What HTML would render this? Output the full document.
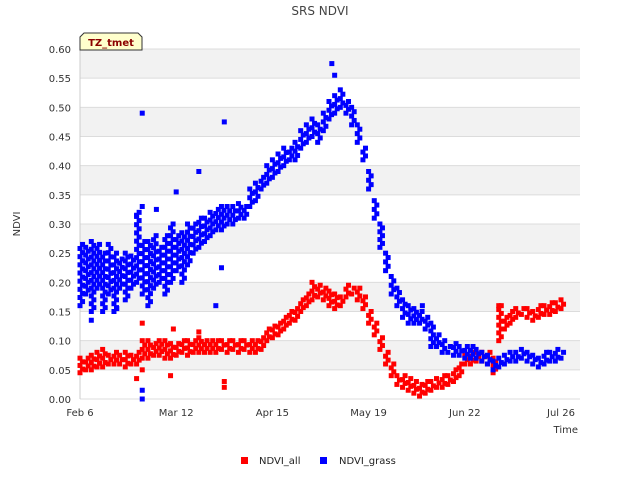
<!DOCTYPE html>
<html><head><meta charset="utf-8">
<style>
body{margin:0;background:#fff}
svg{display:block}
text{font-family:"DejaVu Sans","Liberation Sans",sans-serif}
</style></head>
<body>
<svg id="chart" width="640" height="480">
<g id="bands"></g><g id="grid"></g>
<text x="320" y="15" text-anchor="middle" font-size="12" fill="#444">SRS NDVI</text>
<text x="0" y="0" transform="translate(20,224) rotate(-90)" text-anchor="middle" font-size="10" fill="#333">NDVI</text>
<text x="578" y="433" text-anchor="end" font-size="10" fill="#333">Time</text>
<g id="yticks"></g><g id="xticks"></g>
<g id="red"></g><g id="blue"></g>
<g>
<path d="M80,50 L80,37 L84,33 L138,33 L142,37 L142,50 Z" fill="#ffffcc" stroke="#333" stroke-width="1"/>
<text x="111" y="46" text-anchor="middle" font-size="10" font-weight="bold" fill="#8b0000">TZ_tmet</text>
</g>
<g>
<rect x="241" y="457" width="7" height="7" fill="#ff0000"/>
<text x="259" y="464" font-size="10" fill="#222">NDVI_all</text></g>
<g>
<rect x="320" y="457" width="7" height="7" fill="#0000ff"/>
<text x="339" y="464" font-size="10" fill="#222">NDVI_grass</text></g>
</svg>
<script>
const yTicks=[0,0.05,0.1,0.15,0.2,0.25,0.3,0.35,0.4,0.45,0.5,0.55,0.6];
const xTickDays=[0,34,68,102,136,170];
const xTickLabels=["Feb 6","Mar 12","Apr 15","May 19","Jun 22","Jul 26"];
const binDays=2;
const allLo=[.045,.05,.05,.055,.055,.06,.06,.06,.055,.06,.06,.07,.07,.075,.075,.07,.07,.075,.08,.075,.08,.08,.08,.08,.08,.085,.08,.085,.08,.085,.08,.08,.085,.10,.105,.11,.12,.13,.135,.15,.16,.17,.175,.17,.16,.155,.16,.175,.18,.17,.155,.13,.11,.085,.06,.04,.025,.02,.015,.01,.005,.01,.015,.02,.02,.025,.03,.04,.06,.06,.065,.065,.06,.045,.10,.12,.13,.14,.145,.14,.135,.14,.145,.145,.15,.155];
const allHi=[.07,.07,.075,.08,.085,.075,.08,.075,.08,.075,.08,.10,.10,.095,.10,.10,.095,.095,.10,.10,.10,.105,.10,.10,.10,.10,.10,.10,.10,.10,.10,.10,.105,.12,.125,.13,.14,.15,.155,.17,.18,.20,.195,.19,.185,.18,.175,.195,.19,.19,.175,.15,.13,.105,.08,.06,.04,.04,.035,.03,.025,.03,.03,.035,.04,.04,.05,.06,.075,.08,.08,.08,.08,.07,.16,.14,.15,.155,.155,.155,.15,.16,.16,.165,.165,.17];
const grassLo=[.16,.18,.15,.19,.15,.18,.15,.19,.17,.19,.20,.18,.16,.19,.20,.18,.20,.22,.20,.23,.25,.26,.27,.28,.29,.29,.30,.30,.31,.31,.33,.34,.36,.37,.38,.39,.40,.41,.41,.43,.44,.45,.44,.46,.48,.49,.50,.49,.47,.44,.41,.36,.31,.26,.22,.18,.16,.14,.13,.13,.13,.12,.09,.09,.08,.08,.075,.075,.07,.07,.07,.065,.06,.05,.055,.06,.065,.065,.07,.065,.06,.055,.06,.065,.065,.07];
const grassHi=[.265,.26,.27,.265,.25,.265,.25,.24,.25,.245,.32,.27,.27,.28,.26,.28,.30,.28,.285,.30,.30,.31,.31,.32,.325,.33,.33,.33,.335,.33,.36,.37,.38,.40,.41,.42,.43,.43,.44,.46,.47,.48,.47,.49,.51,.52,.53,.51,.50,.47,.43,.39,.34,.30,.25,.21,.19,.17,.16,.155,.15,.14,.13,.11,.10,.09,.095,.09,.09,.09,.085,.08,.075,.065,.07,.075,.08,.08,.085,.08,.075,.07,.08,.08,.085,.08];
const grassOutDays=[22,51,42,34,20,22,27,50,22,22,121,89,90,4,13,48];
const grassOutVals=[.49,.475,.39,.355,.315,.33,.325,.225,.0,.015,.16,.575,.555,.135,.155,.16];
const allOutDays=[20,22,22,51,51,32,33,42,148];
const allOutVals=[.035,.13,.05,.02,.03,.04,.12,.115,.16];

const NS="http://www.w3.org/2000/svg";
const X0=80,X1=580,Y0=399,Y1=49,dayPx=(561-80)/170;
const xs=d=>X0+d*dayPx;
const ys=v=>Y0-(v/0.6)*(Y0-Y1);
function mk(tag,attrs,parent){const e=document.createElementNS(NS,tag);for(const k in attrs)e.setAttribute(k,attrs[k]);parent.appendChild(e);return e;}
const bands=document.getElementById('bands'),grid=document.getElementById('grid');
for(let i=0;i<12;i++){ if(i%2===1){const r=mk('rect',{x:X0,y:ys(yTicks[i+1]),width:X1-X0,height:ys(yTicks[i])-ys(yTicks[i+1]),fill:'#f2f2f2'},bands);

}}
const yt=document.getElementById('yticks');
yTicks.forEach(v=>{const l=mk('line',{x1:X0,x2:X1,y1:ys(v),y2:ys(v),stroke:'#dcdcdc','stroke-width':1},grid);


const t=mk('text',{x:X0-9,y:ys(v)+4,'text-anchor':'end','font-size':10,fill:'#333'},yt);t.textContent=v.toFixed(2);

});
const ax=mk('line',{x1:X0,x2:X0,y1:Y1,y2:Y0,stroke:'#ccc'},grid);


const xt=document.getElementById('xticks');
xTickDays.forEach((d,i)=>{const t=mk('text',{x:xs(d),y:416,'text-anchor':'middle','font-size':10,fill:'#333'},xt);t.textContent=xTickLabels[i];

});
function pt(g,d,v,c,name){const r=mk('rect',{x:xs(d)-2.5,y:ys(v)-2.5,width:5,height:5,fill:c},g);

}
function series(g,lo,hi,c,name){lo.forEach((l,i)=>{const h=hi[i];const d=i*binDays;
const n=Math.max(1,Math.round((ys(l)-ys(h))/4));
for(let k=0;k<=n;k++){const v=l+(h-l)*k/n;pt(g,d+(k%2)*0.9,v,c,name);}});}
const red=document.getElementById('red'),blue=document.getElementById('blue');
series(red,allLo,allHi,'#ff0000','ndvi-all-point');
allOutDays.forEach((d,i)=>pt(red,d,allOutVals[i],'#ff0000','ndvi-all-point'));
series(blue,grassLo,grassHi,'#0000ff','ndvi-grass-point');
grassOutDays.forEach((d,i)=>pt(blue,d,grassOutVals[i],'#0000ff','ndvi-grass-point'));
</script>
</body></html>
